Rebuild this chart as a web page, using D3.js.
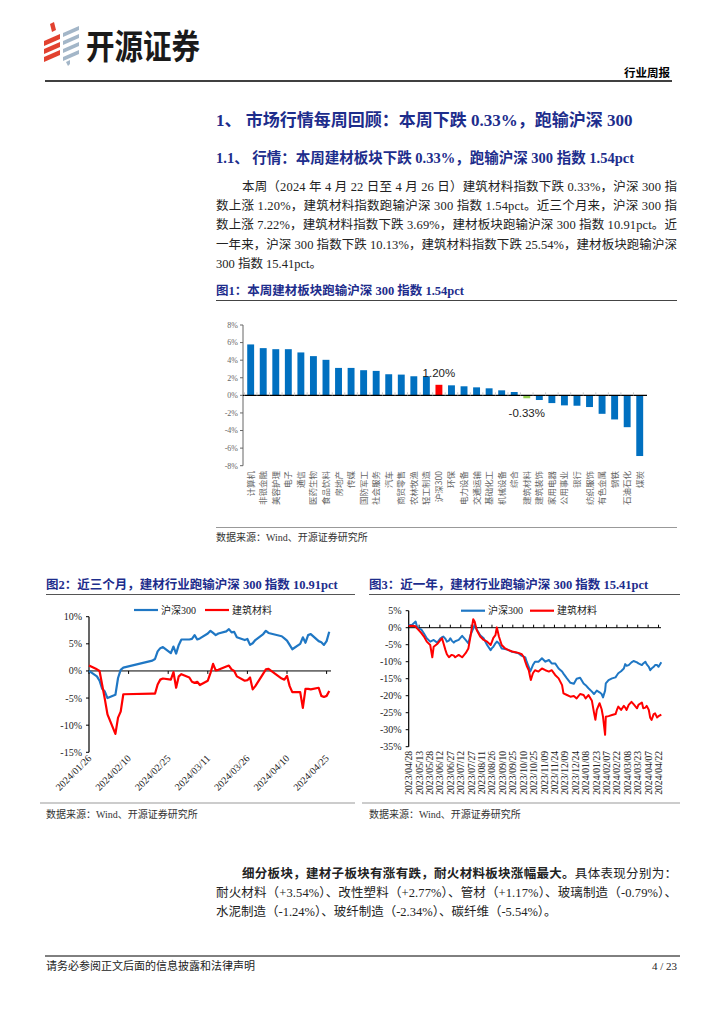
<!DOCTYPE html>
<html><head><meta charset="utf-8">
<script src="https://cdn.jsdelivr.net/npm/d3@7"></script>
<style>
html,body{margin:0;padding:0;background:#fff;}
svg{display:block;}
</style></head><body>
<svg id="page" width="724" height="1024"></svg>
<script>
// ---------- Figure 1 data ----------
const industries = ["计算机","非银金融","美容护理","电子","通信","医药生物","食品饮料","房地产","传媒","国防军工","社会服务","汽车","商贸零售","农林牧渔","轻工制造","沪深300","环保","电力设备","交通运输","基础化工","机械设备","综合","建筑材料","建筑装饰","家用电器","公用事业","银行","纺织服饰","有色金属","钢铁","石油石化","煤炭"];
const weeklyChange = [5.79,5.37,5.25,5.25,4.88,4.46,4.04,3.12,3.12,2.86,2.78,2.40,2.36,2.17,2.17,1.20,1.14,1.03,0.91,0.80,0.57,0.38,-0.33,-0.53,-0.88,-1.14,-1.18,-1.33,-2.10,-2.74,-3.62,-6.90];
const barYTicks = [-8,-6,-4,-2,0,2,4,6,8];

// ---------- Figure 2 data (近三个月) ----------
const dates3m = ["2024-01-26","2024-01-29","2024-01-30","2024-01-31","2024-02-01","2024-02-02","2024-02-05","2024-02-06","2024-02-07","2024-02-08","2024-02-19","2024-02-20","2024-02-21","2024-02-22","2024-02-23","2024-02-26","2024-02-27","2024-02-28","2024-02-29","2024-03-01","2024-03-04","2024-03-05","2024-03-06","2024-03-07","2024-03-08","2024-03-11","2024-03-12","2024-03-13","2024-03-14","2024-03-15","2024-03-18","2024-03-19","2024-03-20","2024-03-21","2024-03-22","2024-03-25","2024-03-26","2024-03-27","2024-03-28","2024-03-29","2024-04-01","2024-04-02","2024-04-03","2024-04-08","2024-04-09","2024-04-10","2024-04-11","2024-04-12","2024-04-15","2024-04-16","2024-04-17","2024-04-18","2024-04-19","2024-04-22","2024-04-23","2024-04-24","2024-04-25","2024-04-26"];
const hs300_3m = [0.0,-1.0,-1.8,-3.3,-3.8,-5.0,-4.4,-1.3,0.2,0.6,1.9,2.2,3.6,4.2,4.4,3.3,4.5,3.2,4.8,5.8,5.8,5.9,6.6,5.8,6.0,6.9,7.4,7.0,6.6,6.9,7.3,7.7,7.1,7.2,6.2,5.7,5.9,4.8,5.1,5.7,6.8,7.4,7.0,6.4,6.0,5.6,4.8,4.0,5.0,6.2,5.2,6.6,6.8,5.5,5.3,4.8,5.5,7.22];
const jzcl_3m = [1.0,0.3,0.0,-2.6,-5.2,-8.0,-11.6,-8.6,-7.5,-4.3,-4.2,-4.2,-2.5,-1.6,-1.4,-1.6,-0.2,-3.1,-1.0,-0.6,-1.2,-2.0,-2.2,-2.0,-2.6,-1.8,-0.4,1.3,0.1,0.2,0.8,1.0,0.3,0.0,-1.0,-1.8,-1.7,-1.2,-3.4,-2.8,-0.5,0.3,0.4,-1.4,-1.6,-0.9,-2.8,-3.9,-3.9,-6.8,-3.3,-3.3,-3.4,-3.1,-4.6,-4.8,-4.6,-3.69];
const ticks3m = ["2024/01/26","2024/02/10","2024/02/25","2024/03/11","2024/03/26","2024/04/10","2024/04/25"];
const yTicks3m = [-15,-10,-5,0,5,10];

// ---------- Figure 3 data (近一年) ----------
const dates1y = ["2023-04-28","2023-05-03","2023-05-08","2023-05-10","2023-05-12","2023-05-16","2023-05-20","2023-05-24","2023-05-29","2023-06-01","2023-06-03","2023-06-08","2023-06-13","2023-06-15","2023-06-17","2023-06-20","2023-06-22","2023-06-25","2023-06-27","2023-06-29","2023-07-02","2023-07-04","2023-07-09","2023-07-14","2023-07-19","2023-07-23","2023-07-26","2023-07-30","2023-08-01","2023-08-04","2023-08-09","2023-08-14","2023-08-19","2023-08-24","2023-08-26","2023-08-28","2023-08-31","2023-09-02","2023-09-05","2023-09-09","2023-09-14","2023-09-19","2023-09-24","2023-09-29","2023-10-03","2023-10-08","2023-10-11","2023-10-13","2023-10-15","2023-10-18","2023-10-20","2023-10-21","2023-10-24","2023-10-27","2023-11-01","2023-11-06","2023-11-11","2023-11-16","2023-11-20","2023-11-25","2023-11-30","2023-12-05","2023-12-07","2023-12-12","2023-12-17","2023-12-22","2023-12-26","2023-12-31","2024-01-05","2024-01-08","2024-01-12","2024-01-17","2024-01-20","2024-01-22","2024-01-24","2024-01-28","2024-01-31","2024-02-02","2024-02-05","2024-02-06","2024-02-10","2024-02-15","2024-02-20","2024-02-22","2024-02-24","2024-02-28","2024-03-03","2024-03-05","2024-03-07","2024-03-10","2024-03-14","2024-03-17","2024-03-22","2024-03-24","2024-03-29","2024-03-31","2024-04-03","2024-04-05","2024-04-08","2024-04-10","2024-04-12","2024-04-15","2024-04-17","2024-04-20","2024-04-22","2024-04-26"];
const hs300_1y = [0.8,0.9,1.8,0.3,-0.2,-0.5,-1.7,-3.1,-4.1,-3.8,-3.6,-4.4,-3.1,-2.8,-2.6,-3.3,-4.1,-3.8,-3.1,-3.8,-4.4,-4.0,-3.6,-2.4,-3.6,-4.6,-2.2,-0.2,0.8,-0.5,-2.2,-3.1,-5.1,-6.6,-6.0,-5.6,-4.6,-4.1,-4.6,-6.1,-6.3,-6.6,-7.1,-7.3,-7.5,-8.3,-8.5,-8.7,-10.0,-11.5,-12.9,-12.5,-11.0,-10.0,-10.0,-9.0,-10.0,-9.5,-10.5,-10.5,-12.0,-12.9,-13.5,-14.9,-16.2,-16.5,-15.0,-14.7,-16.4,-16.9,-17.8,-18.8,-19.5,-19.0,-18.5,-19.0,-19.5,-20.5,-18.5,-16.4,-15.4,-14.9,-14.6,-14.0,-13.4,-12.8,-12.0,-10.7,-11.2,-11.0,-10.2,-9.8,-10.2,-10.5,-11.0,-10.5,-10.0,-10.8,-11.5,-12.5,-12.0,-11.5,-11.0,-11.0,-11.5,-10.13];
const jzcl_1y = [0.5,0.6,0.4,-0.2,-0.6,-1.5,-2.6,-4.1,-5.1,-8.7,-5.6,-4.8,-3.6,-3.1,-4.5,-6.6,-7.8,-8.7,-8.3,-8.0,-8.2,-8.7,-8.0,-8.7,-7.5,-6.1,-2.6,2.5,1.8,-0.7,-2.6,-3.6,-4.1,-5.1,-4.1,-3.0,-2.2,0.1,-2.6,-5.1,-6.1,-6.6,-7.0,-7.2,-7.4,-7.8,-8.7,-10.0,-11.2,-12.5,-14.5,-15.4,-13.4,-12.5,-12.9,-12.0,-12.5,-12.9,-12.5,-13.9,-14.9,-16.9,-19.3,-19.8,-20.3,-20.1,-20.8,-19.5,-19.8,-20.8,-19.8,-21.5,-25.0,-27.1,-24.2,-22.2,-24.0,-26.2,-31.5,-26.2,-26.0,-25.7,-25.4,-24.2,-23.2,-24.2,-23.0,-23.5,-24.2,-22.7,-21.8,-22.5,-23.7,-22.7,-22.0,-23.7,-23.5,-23.0,-24.2,-26.5,-27.1,-25.4,-25.2,-26.4,-26.0,-25.54];
const ticks1y = ["2023/04/28","2023/05/13","2023/05/28","2023/06/12","2023/06/27","2023/07/12","2023/07/27","2023/08/11","2023/08/26","2023/09/10","2023/09/25","2023/10/10","2023/10/25","2023/11/09","2023/11/24","2023/12/09","2023/12/24","2024/01/08","2024/01/23","2024/02/07","2024/02/22","2024/03/08","2024/03/23","2024/04/07","2024/04/22"];
const yTicks1y = [-35,-30,-25,-20,-15,-10,-5,0,5];

const seriesNames = ["沪深300","建筑材料"];

// ---------- styles ----------
const NAVY = "#1D2D8C";
const BLUE_LINE = "#1F77C4";
const RED = "#FF0000";
const SERIF = "'Liberation Serif','Noto Sans CJK SC',serif";
const CJK = "'Noto Sans CJK SC','Liberation Sans',sans-serif";

const svg = d3.select("#page");
const pdate = d3.utcParse("%Y-%m-%d");
const pslash = d3.utcParse("%Y/%m/%d");

function txt(g, x, y, s, opt = {}) {
  const t = g.append("text").attr("x", x).attr("y", y).text(s)
    .attr("font-family", opt.family || SERIF)
    .attr("font-size", opt.size || 13)
    .attr("fill", opt.fill || "#000");
  if (opt.weight) t.attr("font-weight", opt.weight);
  if (opt.anchor) t.attr("text-anchor", opt.anchor);
  if (opt.len) t.attr("textLength", opt.len).attr("lengthAdjust", "spacing");
  return t;
}
function hline(x1, x2, y, color, w) {
  svg.append("line").attr("x1", x1).attr("x2", x2).attr("y1", y).attr("y2", y)
    .attr("stroke", color).attr("stroke-width", w);
}

// ---------- header ----------
const logo = svg.append("g").attr("transform", "translate(44,22)");
logo.append("path").attr("d", "M6,2 L10,0 L12,8 L8,10 Z").attr("fill", "#E2412F");
[[0,12],[0,20],[0,28]].forEach(([x, y]) => {
  logo.append("path").attr("d", `M${x},${y + 7} L${x + 16},${y} L${x + 16},${y + 5} L${x},${y + 12} Z`).attr("fill", "#E2412F");
});
[[19,4],[19,12],[19,20],[19,28]].forEach(([x, y]) => {
  logo.append("path").attr("d", `M${x},${y + 7} L${x + 16},${y} L${x + 16},${y + 4} L${x},${y + 11} Z`).attr("fill", "#A3B6C8");
});
logo.append("path").attr("d", "M22,40 L26,38 L26,42 L24,44 Z").attr("fill", "#A3B6C8");
svg.append("text").attr("transform", "translate(86,59) scale(0.84,1)")
  .attr("font-family", CJK).attr("font-size", 34).attr("font-weight", 700).attr("fill", "#1a1a1a").text("开源证券");
txt(svg, 670, 77, "行业周报", {family: CJK, size: 11.5, weight: 700, anchor: "end"});
hline(45, 672, 81, "#000", 1.5);

// ---------- headings & paragraph ----------
const LEFT = 216, RIGHT = 677;
txt(svg, LEFT, 126, "1、 市场行情每周回顾：本周下跌 0.33%，跑输沪深 300", {size: 17, weight: 700, fill: NAVY});
txt(svg, LEFT, 163, "1.1、 行情：本周建材板块下跌 0.33%，跑输沪深 300 指数 1.54pct", {size: 14.5, weight: 700, fill: NAVY});
const para = [
  "本周（2024 年 4 月 22 日至 4 月 26 日）建筑材料指数下跌 0.33%，沪深 300 指",
  "数上涨 1.20%，建筑材料指数跑输沪深 300 指数 1.54pct。近三个月来，沪深 300 指",
  "数上涨 7.22%，建筑材料指数下跌 3.69%，建材板块跑输沪深 300 指数 10.91pct。近",
  "一年来，沪深 300 指数下跌 10.13%，建筑材料指数下跌 25.54%，建材板块跑输沪深",
  "300 指数 15.41pct。"
];
para.forEach((s, i) => {
  const x = i === 0 ? LEFT + 26 : LEFT;
  const last = i === para.length - 1;
  txt(svg, x, 191 + i * 19.2, s, {size: 12.5, fill: "#222", len: last ? null : RIGHT - x});
});

// ---------- Figure 1 ----------
txt(svg, LEFT, 295, "图1：本周建材板块跑输沪深 300 指数 1.54pct", {size: 12.5, weight: 700, fill: NAVY});
hline(LEFT, RIGHT, 300.5, "#444", 1.2);

const f1 = svg.append("g");
const yb = d3.scaleLinear().domain([-8, 8]).range([465.7, 325]);
const xb = d3.scaleBand().domain(industries).range([244.4, 646.0]).paddingInner(0.45).paddingOuter(0.225);
const AX1 = 243;
f1.append("line").attr("x1", AX1).attr("x2", AX1).attr("y1", yb(8)).attr("y2", yb(-8)).attr("stroke", "#666").attr("stroke-width", 1);
barYTicks.forEach(t => {
  f1.append("line").attr("x1", AX1 - 3).attr("x2", AX1).attr("y1", yb(t)).attr("y2", yb(t)).attr("stroke", "#666");
  txt(f1, AX1 - 5, yb(t) + 2.8, t + "%", {size: 8, fill: "#666", anchor: "end"});
});
f1.selectAll("rect.bar").data(industries).join("rect")
  .attr("x", d => xb(d))
  .attr("width", xb.bandwidth())
  .attr("y", (d, i) => yb(Math.max(0, weeklyChange[i])))
  .attr("height", (d, i) => Math.abs(yb(weeklyChange[i]) - yb(0)))
  .attr("fill", d => d === "沪深300" ? "#FF0000" : d === "建筑材料" ? "#92D050" : "#0070C0");
f1.append("line").attr("x1", AX1).attr("x2", 647).attr("y1", yb(0)).attr("y2", yb(0)).attr("stroke", "#000").attr("stroke-width", 1.2);
industries.forEach(d => {
  const bx = xb(d) - xb.step() * xb.paddingInner() / 2;
  f1.append("line").attr("x1", bx).attr("x2", bx).attr("y1", yb(0) - 3).attr("y2", yb(0)).attr("stroke", "#c8c8c8");
});
industries.forEach(d => {
  const cx = xb(d) + xb.bandwidth() / 2;
  f1.append("text").attr("transform", `translate(${cx + 3},471) rotate(-90)`)
    .attr("text-anchor", "end").attr("font-family", CJK).attr("font-size", 8.5).attr("fill", "#666").text(d);
});
["沪深300","建筑材料"].forEach(d => {
  const i = industries.indexOf(d);
  const v = weeklyChange[i];
  const cx = xb(d) + xb.bandwidth() / 2;
  const y = v >= 0 ? yb(v) - 8 : yb(v) + 19;
  txt(f1, cx, y, v.toFixed(2) + "%", {family: "'Liberation Sans',sans-serif", size: 11.5, fill: "#222", anchor: "middle"});
});
hline(LEFT, RIGHT, 527.5, "#999", 1);
txt(svg, LEFT, 541, "数据来源：Wind、开源证券研究所", {size: 10, fill: "#333"});

// ---------- line chart helper ----------
function lineChart(cfg) {
  const g = svg.append("g");
  txt(g, cfg.capX, 589, cfg.caption, {size: 12.5, weight: 700, fill: NAVY});
  hline(cfg.capX, cfg.capR, 594.5, "#555", 1.2);
  const x = d3.scaleTime().domain(cfg.xDomain).range(cfg.xRange);
  const y = d3.scaleLinear().domain(cfg.yDomain).range(cfg.yRange);
  const colors = [BLUE_LINE, RED];
  seriesNames.forEach((n, i) => {
    const lx = cfg.legX[i];
    g.append("line").attr("x1", lx).attr("x2", lx + 24).attr("y1", cfg.legY).attr("y2", cfg.legY)
      .attr("stroke", colors[i]).attr("stroke-width", 2.2);
    txt(g, lx + 27, cfg.legY + 3.5, n, {size: 10, fill: "#222"});
  });
  const x0 = cfg.xRange[0];
  g.append("line").attr("x1", x0).attr("x2", x0).attr("y1", y(cfg.yDomain[1])).attr("y2", y(cfg.yDomain[0])).attr("stroke", "#000").attr("stroke-width", 1.2);
  cfg.yTicks.forEach(t => {
    g.append("line").attr("x1", x0 - 3).attr("x2", x0).attr("y1", y(t)).attr("y2", y(t)).attr("stroke", "#000");
    txt(g, x0 - 7, y(t) + 3.5, t + "%", {size: 10, fill: "#222", anchor: "end"});
  });
  g.append("line").attr("x1", x0).attr("x2", cfg.axisEnd).attr("y1", y(0)).attr("y2", y(0)).attr("stroke", "#000").attr("stroke-width", 1);
  cfg.xTicks.forEach(t => {
    const tx = x(pslash(t));
    g.append("line").attr("x1", tx).attr("x2", tx).attr("y1", y(0) + cfg.tickDir[0]).attr("y2", y(0) + cfg.tickDir[1]).attr("stroke", "#000");
    g.append("text").attr("transform", `translate(${tx + cfg.lblDx},${cfg.lblY}) rotate(${cfg.rot})`)
      .attr("text-anchor", "end").attr("font-family", SERIF).attr("font-size", cfg.lblSize).attr("fill", "#222").text(t);
  });
  const dates = cfg.dates.map(pdate);
  const line = d3.line().x((d, i) => x(dates[i])).y(d => y(d)).curve(d3.curveLinear);
  cfg.series.forEach((s, i) => {
    g.append("path").datum(s).attr("d", line).attr("fill", "none")
      .attr("stroke", colors[i]).attr("stroke-width", cfg.lw).attr("stroke-linejoin", "round");
  });
  hline(cfg.srcL, cfg.capR, 803, "#999", 1);
  txt(g, cfg.capX, 818, "数据来源：Wind、开源证券研究所", {size: 10, fill: "#333"});
}

lineChart({
  caption: "图2：近三个月，建材行业跑输沪深 300 指数 10.91pct",
  capX: 46, capR: 355, srcL: 40,
  xDomain: [pdate("2024-01-26"), pdate("2024-04-26")], xRange: [89, 89 + 91 * 2.64], axisEnd: 331,
  yDomain: [-15, 10], yRange: [752.3, 616.7], yTicks: yTicks3m,
  xTicks: ticks3m, tickDir: [0, 3], lblDx: 3, lblY: 759, rot: -45, lblSize: 10,
  legX: [134, 205], legY: 610,
  dates: dates3m, series: [hs300_3m, jzcl_3m], lw: 2.2
});

lineChart({
  caption: "图3：近一年，建材行业跑输沪深 300 指数 15.41pct",
  capX: 369, capR: 680, srcL: 362,
  xDomain: [pdate("2023-04-28"), pdate("2024-04-26")], xRange: [408.7, 408.7 + 364 * 0.694], axisEnd: 661,
  yDomain: [-35, 5], yRange: [746.7, 610.7], yTicks: yTicks1y,
  xTicks: ticks1y, tickDir: [-3, 0], lblDx: 3.5, lblY: 751, rot: -90, lblSize: 9.6,
  legX: [461, 530], legY: 610.7,
  dates: dates1y, series: [hs300_1y, jzcl_1y], lw: 2
});

// ---------- bottom paragraph ----------
const b1 = svg.append("text").attr("x", LEFT + 26).attr("y", 878).attr("font-family", SERIF).attr("font-size", 12.5).attr("fill", "#222")
  .attr("textLength", RIGHT - LEFT - 26).attr("lengthAdjust", "spacing");
b1.append("tspan").attr("font-weight", 700).text("细分板块，建材子板块有涨有跌，耐火材料板块涨幅最大。");
b1.append("tspan").text("具体表现分别为：");
txt(svg, LEFT, 897, "耐火材料（+3.54%）、改性塑料（+2.77%）、管材（+1.17%）、玻璃制造（-0.79%）、", {size: 12.5, fill: "#222", len: RIGHT - LEFT});
txt(svg, LEFT, 916, "水泥制造（-1.24%）、玻纤制造（-2.34%）、碳纤维（-5.54%）。", {size: 12.5, fill: "#222"});

// ---------- footer ----------
hline(45, 680, 956, "#000", 1);
txt(svg, 46, 970, "请务必参阅正文后面的信息披露和法律声明", {size: 11, fill: "#222"});
txt(svg, 677, 970, "4 / 23", {size: 11, fill: "#222", anchor: "end"});
</script>
</body></html>
